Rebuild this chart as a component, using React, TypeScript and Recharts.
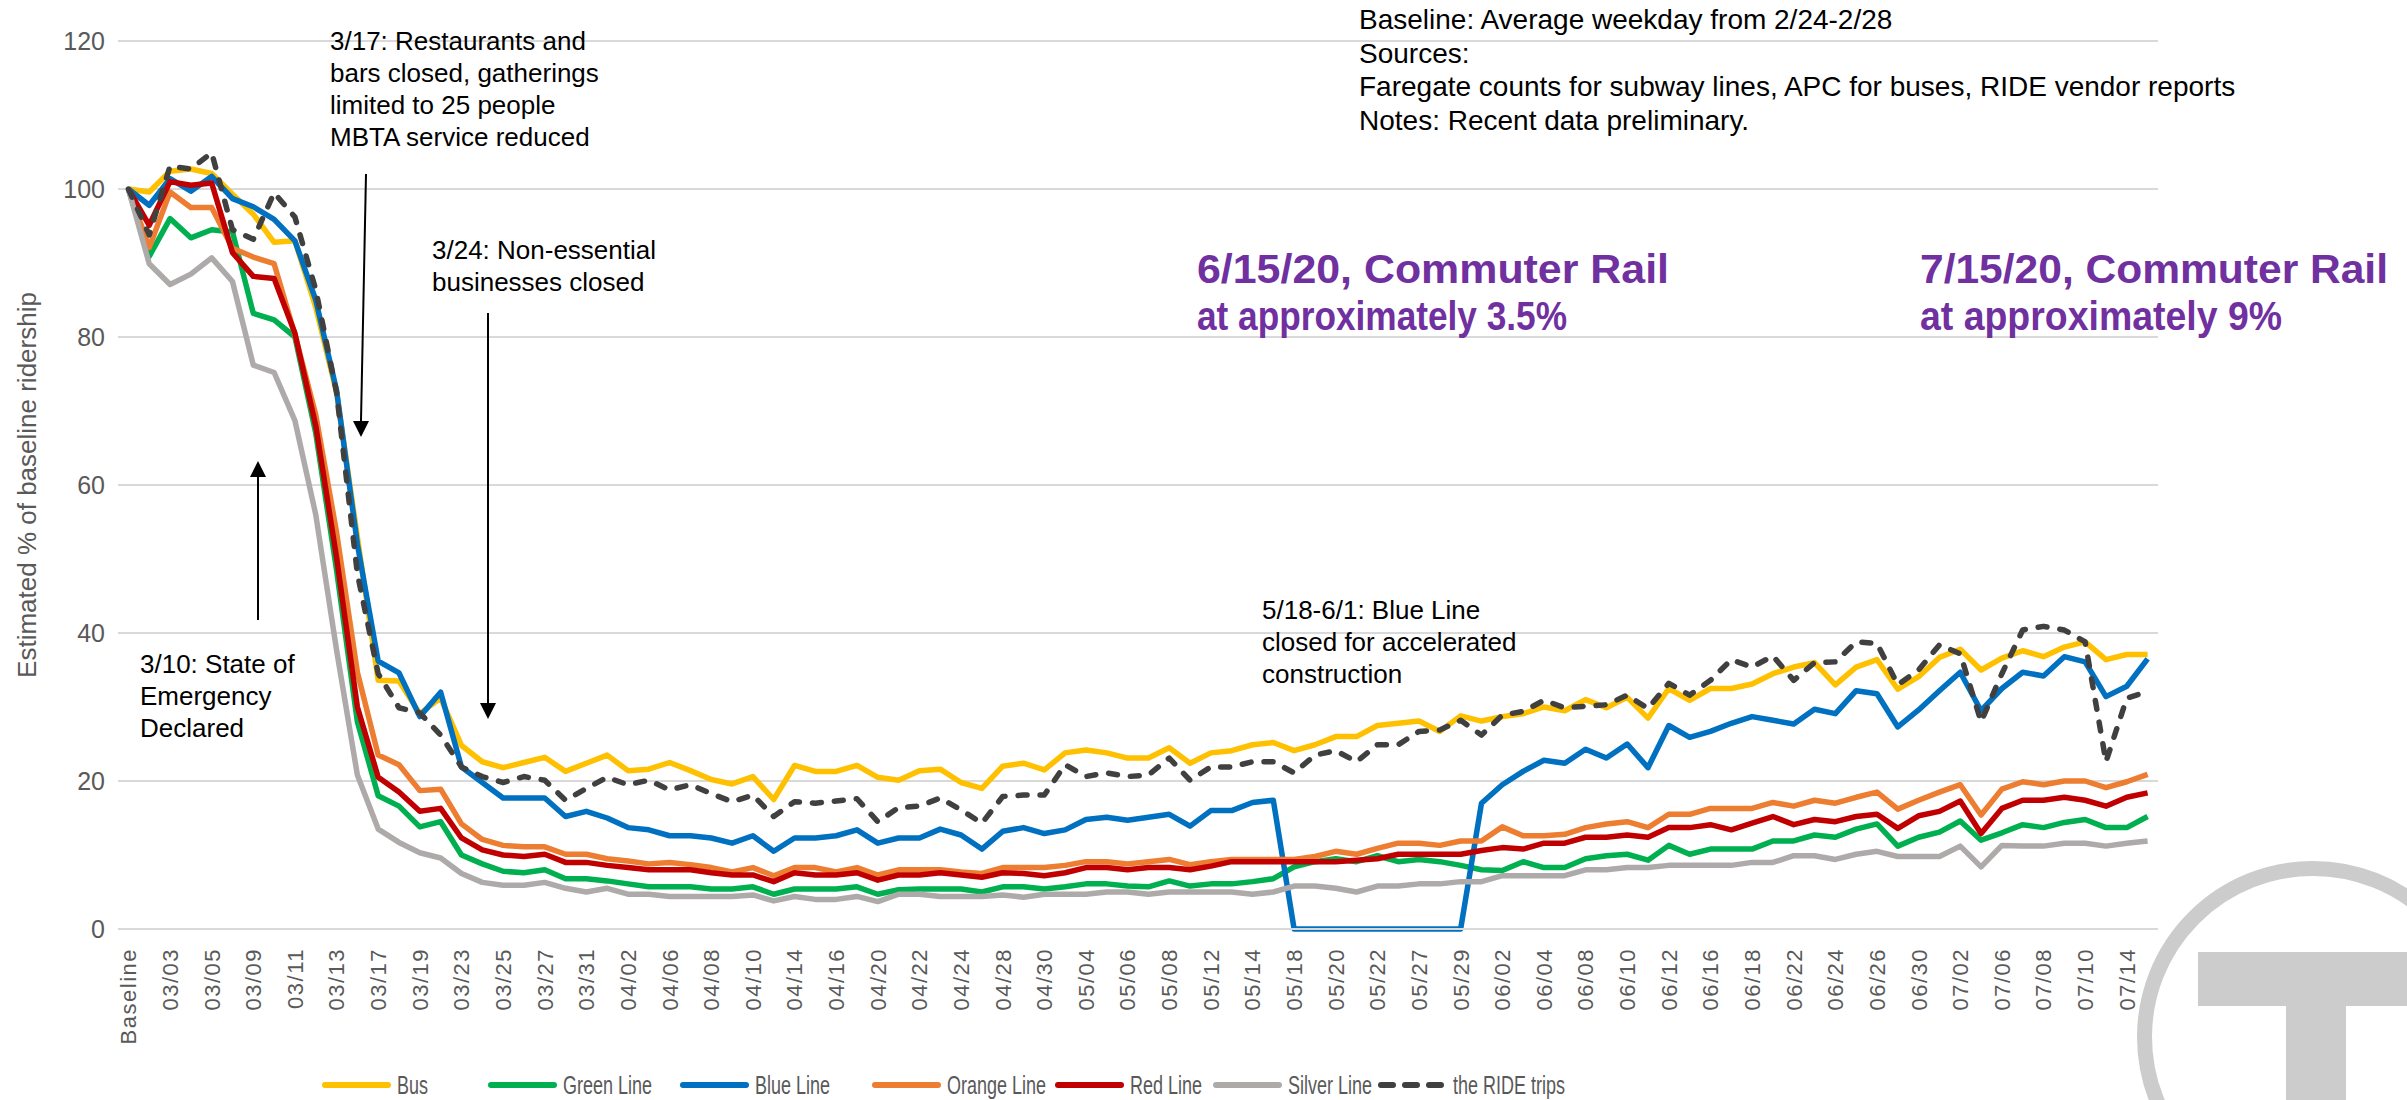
import { LineChart, Line, XAxis, YAxis, CartesianGrid } from 'recharts';

const FONT = "'Liberation Sans', Arial, sans-serif";

// weekdays only, Baseline = avg weekday 2/24-2/28
const dates = [
  'Baseline', '03/02', '03/03', '03/04', '03/05', '03/06', '03/09', '03/10', '03/11', '03/12',
  '03/13', '03/16', '03/17', '03/18', '03/19', '03/20', '03/23', '03/24', '03/25', '03/26',
  '03/27', '03/30', '03/31', '04/01', '04/02', '04/03', '04/06', '04/07', '04/08', '04/09',
  '04/10', '04/13', '04/14', '04/15', '04/16', '04/17', '04/20', '04/21', '04/22', '04/23',
  '04/24', '04/27', '04/28', '04/29', '04/30', '05/01', '05/04', '05/05', '05/06', '05/07',
  '05/08', '05/11', '05/12', '05/13', '05/14', '05/15', '05/18', '05/19', '05/20', '05/21',
  '05/22', '05/26', '05/27', '05/28', '05/29', '06/01', '06/02', '06/03', '06/04', '06/05',
  '06/08', '06/09', '06/10', '06/11', '06/12', '06/15', '06/16', '06/17', '06/18', '06/19',
  '06/22', '06/23', '06/24', '06/25', '06/26', '06/29', '06/30', '07/01', '07/02', '07/03',
  '07/06', '07/07', '07/08', '07/09', '07/10', '07/13', '07/14', '07/15',
];

const bus = [
  100, 99.6, 102.4, 102.7, 102.1, 99.3, 96.6, 92.8, 93.0, 84.0,
  72.5, 53.0, 33.6, 33.5, 29.1, 31.2, 24.8, 22.6, 21.8, 22.5,
  23.2, 21.3, 22.4, 23.5, 21.4, 21.6, 22.5, 21.4, 20.2, 19.6,
  20.6, 17.5, 22.1, 21.3, 21.3, 22.1, 20.5, 20.1, 21.4, 21.6,
  19.8, 19.0, 22.0, 22.4, 21.5, 23.8, 24.2, 23.8, 23.1, 23.1,
  24.5, 22.4, 23.8, 24.1, 24.9, 25.2, 24.1, 24.9, 26.0, 26.0,
  27.5, 27.8, 28.1, 26.7, 28.8, 28.1, 28.7, 29.1, 30.0, 29.5,
  31.0, 29.9, 31.3, 28.5, 32.5, 30.9, 32.5, 32.5, 33.1, 34.5,
  35.4, 36.0, 33.0, 35.4, 36.4, 32.4, 34.1, 36.7, 37.8, 35.0,
  36.6, 37.6, 36.8, 38.1, 38.8, 36.4, 37.1, 37.1,
];

const green = [
  100, 90.9, 96.0, 93.4, 94.5, 94.2, 83.2, 82.3, 80.0, 67.0,
  48.5, 28.0, 18.0, 16.6, 13.8, 14.5, 10.0, 8.8, 7.8, 7.6,
  8.0, 6.8, 6.8, 6.5, 6.1, 5.7, 5.7, 5.7, 5.4, 5.4,
  5.7, 4.7, 5.4, 5.4, 5.4, 5.7, 4.7, 5.3, 5.4, 5.4,
  5.4, 5.0, 5.7, 5.7, 5.4, 5.7, 6.1, 6.1, 5.8, 5.7,
  6.5, 5.8, 6.1, 6.1, 6.4, 6.8, 8.4, 9.1, 9.5, 9.1,
  9.9, 9.1, 9.4, 9.1, 8.6, 8.0, 7.9, 9.1, 8.3, 8.3,
  9.5, 9.9, 10.1, 9.3, 11.3, 10.1, 10.8, 10.8, 10.8, 11.9,
  11.9, 12.7, 12.4, 13.5, 14.2, 11.2, 12.4, 13.1, 14.6, 12.0,
  13.0, 14.1, 13.7, 14.4, 14.8, 13.7, 13.7, 15.2,
];

// 0 while the line was closed 5/18-5/29
const blue = [
  100, 97.8, 101.4, 99.7, 101.7, 98.7, 97.6, 95.9, 93.0, 85.0,
  72.8, 52.0, 36.2, 34.6, 28.7, 32.0, 21.9, 19.8, 17.7, 17.7,
  17.7, 15.2, 15.9, 15.0, 13.7, 13.4, 12.6, 12.6, 12.3, 11.6,
  12.6, 10.5, 12.3, 12.3, 12.6, 13.4, 11.6, 12.3, 12.3, 13.5,
  12.7, 10.8, 13.2, 13.7, 12.9, 13.4, 14.8, 15.1, 14.7, 15.1,
  15.5, 13.9, 16.0, 16.0, 17.1, 17.4, 0, 0, 0, 0,
  0, 0, 0, 0, 0, 17.0, 19.5, 21.3, 22.8, 22.4,
  24.3, 23.1, 25.0, 21.8, 27.5, 25.9, 26.7, 27.8, 28.7, 28.2,
  27.7, 29.7, 29.1, 32.2, 31.8, 27.3, 29.6, 32.2, 34.7, 29.5,
  32.5, 34.7, 34.2, 36.8, 36.1, 31.4, 32.8, 36.5,
];

const orange = [
  100, 92.1, 99.6, 97.5, 97.5, 92.0, 90.8, 89.9, 80.3, 69.5,
  53.6, 34.7, 23.5, 22.2, 18.7, 18.9, 14.2, 12.1, 11.3, 11.1,
  11.1, 10.1, 10.1, 9.5, 9.2, 8.8, 9.0, 8.7, 8.3, 7.7,
  8.3, 7.2, 8.3, 8.3, 7.7, 8.3, 7.3, 8.0, 8.0, 8.0,
  7.7, 7.5, 8.3, 8.3, 8.3, 8.6, 9.1, 9.1, 8.8, 9.1,
  9.4, 8.7, 9.1, 9.4, 9.4, 9.4, 9.4, 9.8, 10.5, 10.1,
  10.9, 11.6, 11.6, 11.3, 11.9, 11.9, 13.8, 12.6, 12.6, 12.8,
  13.7, 14.2, 14.5, 13.7, 15.5, 15.5, 16.3, 16.3, 16.3, 17.1,
  16.6, 17.4, 17.0, 17.8, 18.5, 16.2, 17.4, 18.5, 19.5, 15.4,
  18.9, 19.9, 19.5, 20.0, 20.0, 19.1, 19.9, 20.9,
];

const red = [
  100, 95.1, 101.0, 100.5, 100.8, 91.4, 88.2, 87.9, 80.5, 68.0,
  50.2, 30.0, 20.5, 18.5, 15.9, 16.3, 12.3, 10.7, 10.0, 9.8,
  10.1, 9.0, 9.0, 8.6, 8.3, 8.0, 8.0, 8.0, 7.6, 7.3,
  7.3, 6.4, 7.6, 7.3, 7.3, 7.6, 6.6, 7.3, 7.3, 7.6,
  7.3, 7.0, 7.6, 7.5, 7.2, 7.6, 8.3, 8.3, 8.0, 8.3,
  8.3, 8.0, 8.5, 9.1, 9.1, 9.1, 9.1, 9.1, 9.1, 9.3,
  9.5, 10.1, 10.1, 10.1, 10.1, 10.6, 11.0, 10.8, 11.6, 11.6,
  12.4, 12.4, 12.7, 12.4, 13.7, 13.7, 14.1, 13.4, 14.3, 15.2,
  14.1, 14.8, 14.5, 15.2, 15.5, 13.6, 15.3, 15.9, 17.3, 12.9,
  16.3, 17.4, 17.4, 17.8, 17.4, 16.6, 17.8, 18.4,
];

const silver = [
  100, 89.9, 87.1, 88.5, 90.7, 87.5, 76.2, 75.2, 68.7, 56.0,
  37.7, 20.8, 13.5, 11.7, 10.3, 9.6, 7.5, 6.3, 5.9, 5.9,
  6.3, 5.5, 5.0, 5.5, 4.7, 4.7, 4.4, 4.4, 4.4, 4.4,
  4.6, 3.8, 4.4, 4.0, 4.0, 4.4, 3.7, 4.7, 4.7, 4.4,
  4.4, 4.4, 4.6, 4.3, 4.7, 4.7, 4.7, 5.0, 5.0, 4.7,
  5.0, 5.0, 5.0, 5.0, 4.7, 5.0, 5.8, 5.8, 5.5, 5.0,
  5.8, 5.8, 6.1, 6.1, 6.4, 6.4, 7.2, 7.2, 7.2, 7.2,
  8.0, 8.0, 8.3, 8.3, 8.6, 8.6, 8.6, 8.6, 9.0, 9.0,
  9.9, 9.9, 9.4, 10.1, 10.5, 9.8, 9.8, 9.8, 11.2, 8.4,
  11.3, 11.2, 11.2, 11.6, 11.6, 11.2, 11.6, 11.9,
];

const ride = [
  100, 93.8, 103.1, 102.7, 104.9, 94.5, 93.2, 99.5, 96.2, 86.4,
  72.5, 48.0, 34.5, 29.9, 29.2, 26.2, 21.9, 20.6, 19.8, 20.6,
  20.1, 17.4, 19.0, 20.5, 19.5, 20.1, 18.8, 19.5, 18.3, 17.2,
  18.1, 15.2, 17.2, 17.0, 17.3, 17.6, 14.5, 16.4, 16.6, 17.7,
  16.1, 14.3, 17.9, 18.1, 18.1, 22.2, 20.6, 21.1, 20.6, 20.8,
  23.1, 20.1, 21.9, 21.9, 22.6, 22.6, 21.1, 23.5, 24.1, 22.6,
  24.9, 24.9, 26.7, 26.9, 28.2, 26.2, 28.9, 29.4, 30.9, 29.9,
  30.1, 30.3, 31.6, 29.8, 33.2, 31.6, 33.6, 36.4, 35.4, 36.9,
  33.6, 36.0, 36.1, 38.8, 38.6, 33.0, 35.0, 38.4, 37.2, 28.0,
  34.5, 40.4, 40.9, 40.4, 38.8, 22.6, 31.2, 32.1,
];

const yTicks = [0, 20, 40, 60, 80, 100, 120];

const series = [
  { key: 'bus', name: 'Bus', color: '#FFC000', values: bus, dashed: false },
  { key: 'green', name: 'Green Line', color: '#00B050', values: green, dashed: false },
  { key: 'blue', name: 'Blue Line', color: '#0070C0', values: blue, dashed: false },
  { key: 'orange', name: 'Orange Line', color: '#ED7D31', values: orange, dashed: false },
  { key: 'red', name: 'Red Line', color: '#C00000', values: red, dashed: false },
  { key: 'silver', name: 'Silver Line', color: '#AEAAAA', values: silver, dashed: false },
  { key: 'ride', name: 'the RIDE trips', color: '#404040', values: ride, dashed: true },
];

const rows = dates.map((date, i) => {
  const row: Record<string, string | number> = { date };
  series.forEach(s => { row[s.key] = s.values[i]; });
  return row;
});

// legend item x positions (line start)
const legendX = [322, 488, 680, 872, 1055, 1213, 1378];

const DateTick = ({ x, y, payload }: any) => (
  <text
    x={x}
    y={y}
    transform={`rotate(-90, ${x}, ${y})`}
    textAnchor="end"
    dy="0.36em"
    fill="#595959"
    fontSize={22}
    letterSpacing={1.5}
    fontFamily={FONT}
  >
    {payload.value}
  </text>
);

const Note = ({ x, y, lines, size = 26, step = 32 }: { x: number; y: number; lines: string[]; size?: number; step?: number }) => (
  <text x={x} y={y} fontSize={size} fontFamily={FONT} fill="#000">
    {lines.map((l, i) => (
      <tspan key={i} x={x} dy={i === 0 ? 0 : step}>{l}</tspan>
    ))}
  </text>
);

const Arrow = ({ x1, y1, x2, y2 }: { x1: number; y1: number; x2: number; y2: number }) => {
  const dir = y2 > y1 ? 1 : -1;
  const base = y2 - dir * 16;
  return (
    <g>
      <line x1={x1} y1={y1} x2={x2} y2={base} stroke="#000" strokeWidth={2} />
      <polygon points={`${x2 - 8},${base} ${x2 + 8},${base} ${x2},${y2}`} fill="#000" />
    </g>
  );
};

export default function App() {
  return (
    <div style={{ position: 'absolute', left: 0, top: 0, width: 2407, height: 1100, background: '#fff', fontFamily: FONT }}>
      <LineChart
        width={2407}
        height={1100}
        data={rows}
        margin={{ top: 41, right: 249, bottom: 0, left: 0 }}
      >
        <CartesianGrid vertical={false} stroke="#D9D9D9" strokeWidth={2} />
        <XAxis
          dataKey="date"
          interval={1}
          height={171}
          padding={{ left: 10.4, right: 10.4 }}
          axisLine={{ stroke: '#D9D9D9', strokeWidth: 2 }}
          tickLine={false}
          tickSize={0}
          tickMargin={19}
          tick={<DateTick />}
        />
        <YAxis
          domain={[0, 120]}
          ticks={yTicks}
          width={118}
          axisLine={false}
          tickLine={false}
          tickSize={0}
          tickMargin={13}
          tick={{ fill: '#595959', fontSize: 25, fontFamily: FONT }}
        />
        {series.map(s => (
          <Line
            key={s.key}
            type="linear"
            dataKey={s.key}
            name={s.name}
            stroke={s.color}
            strokeWidth={5.5}
            strokeLinejoin="round"
            strokeLinecap={s.dashed ? 'round' : 'butt'}
            strokeDasharray={s.dashed ? '9 13' : undefined}
            dot={false}
            activeDot={false}
            isAnimationActive={false}
          />
        ))}
      </LineChart>

      <svg width={2407} height={1100} style={{ position: 'absolute', left: 0, top: 0, pointerEvents: 'none' }}>
        {/* y axis title */}
        <text
          x={27}
          y={485}
          transform="rotate(-90, 27, 485)"
          textAnchor="middle"
          dy="0.35em"
          fontSize={26}
          fill="#595959"
          fontFamily={FONT}
        >
          Estimated % of baseline ridership
        </text>

        {/* event annotations */}
        <Note x={330} y={50} lines={['3/17: Restaurants and', 'bars closed, gatherings', 'limited to 25 people', 'MBTA service reduced']} />
        <Arrow x1={366} y1={174} x2={361} y2={437} />
        <Note x={432} y={259} lines={['3/24: Non-essential', 'businesses closed']} />
        <Arrow x1={488} y1={313} x2={488} y2={719} />
        <Note x={140} y={673} lines={['3/10: State of', 'Emergency', 'Declared']} />
        <Arrow x1={258} y1={620} x2={258} y2={461} />
        <Note x={1262} y={619} lines={['5/18-6/1: Blue Line', 'closed for accelerated', 'construction']} />

        {/* source notes */}
        <Note
          x={1359}
          y={29}
          size={28}
          step={33.5}
          lines={[
            'Baseline: Average weekday from 2/24-2/28',
            'Sources:',
            'Faregate counts for subway lines, APC for buses, RIDE vendor reports',
            'Notes: Recent data preliminary.',
          ]}
        />

        {/* commuter rail callouts */}
        <g fill="#7030A0" fontWeight="bold" fontSize={40} fontFamily={FONT}>
          <text x={1197} y={283} textLength={472} lengthAdjust="spacingAndGlyphs">6/15/20, Commuter Rail</text>
          <text x={1197} y={330} textLength={370} lengthAdjust="spacingAndGlyphs">at approximately 3.5%</text>
          <text x={1920} y={283} textLength={468} lengthAdjust="spacingAndGlyphs">7/15/20, Commuter Rail</text>
          <text x={1920} y={330} textLength={362} lengthAdjust="spacingAndGlyphs">at approximately 9%</text>
        </g>

        {/* legend */}
        {series.map((s, i) => {
          const lx = legendX[i];
          return (
            <g key={s.key}>
              <line
                x1={lx + 3}
                y1={1085}
                x2={lx + 66}
                y2={1085}
                stroke={s.color}
                strokeWidth={6}
                strokeLinecap="round"
                strokeDasharray={s.dashed ? '12 12' : undefined}
              />
              <text
                transform={`translate(${lx + 75}, 1085) scale(0.72, 1)`}
                dy="0.35em"
                fontSize={25}
                fill="#595959"
                fontFamily={FONT}
              >
                {s.name}
              </text>
            </g>
          );
        })}

        {/* MBTA logo */}
        <g fill="#CCCCCC">
          <circle cx={2313} cy={1037} r={168.5} fill="none" stroke="#CCCCCC" strokeWidth={15} />
          <rect x={2198} y={952} width={230} height={54} />
          <rect x={2286} y={1006} width={60} height={120} />
        </g>
      </svg>
    </div>
  );
}
